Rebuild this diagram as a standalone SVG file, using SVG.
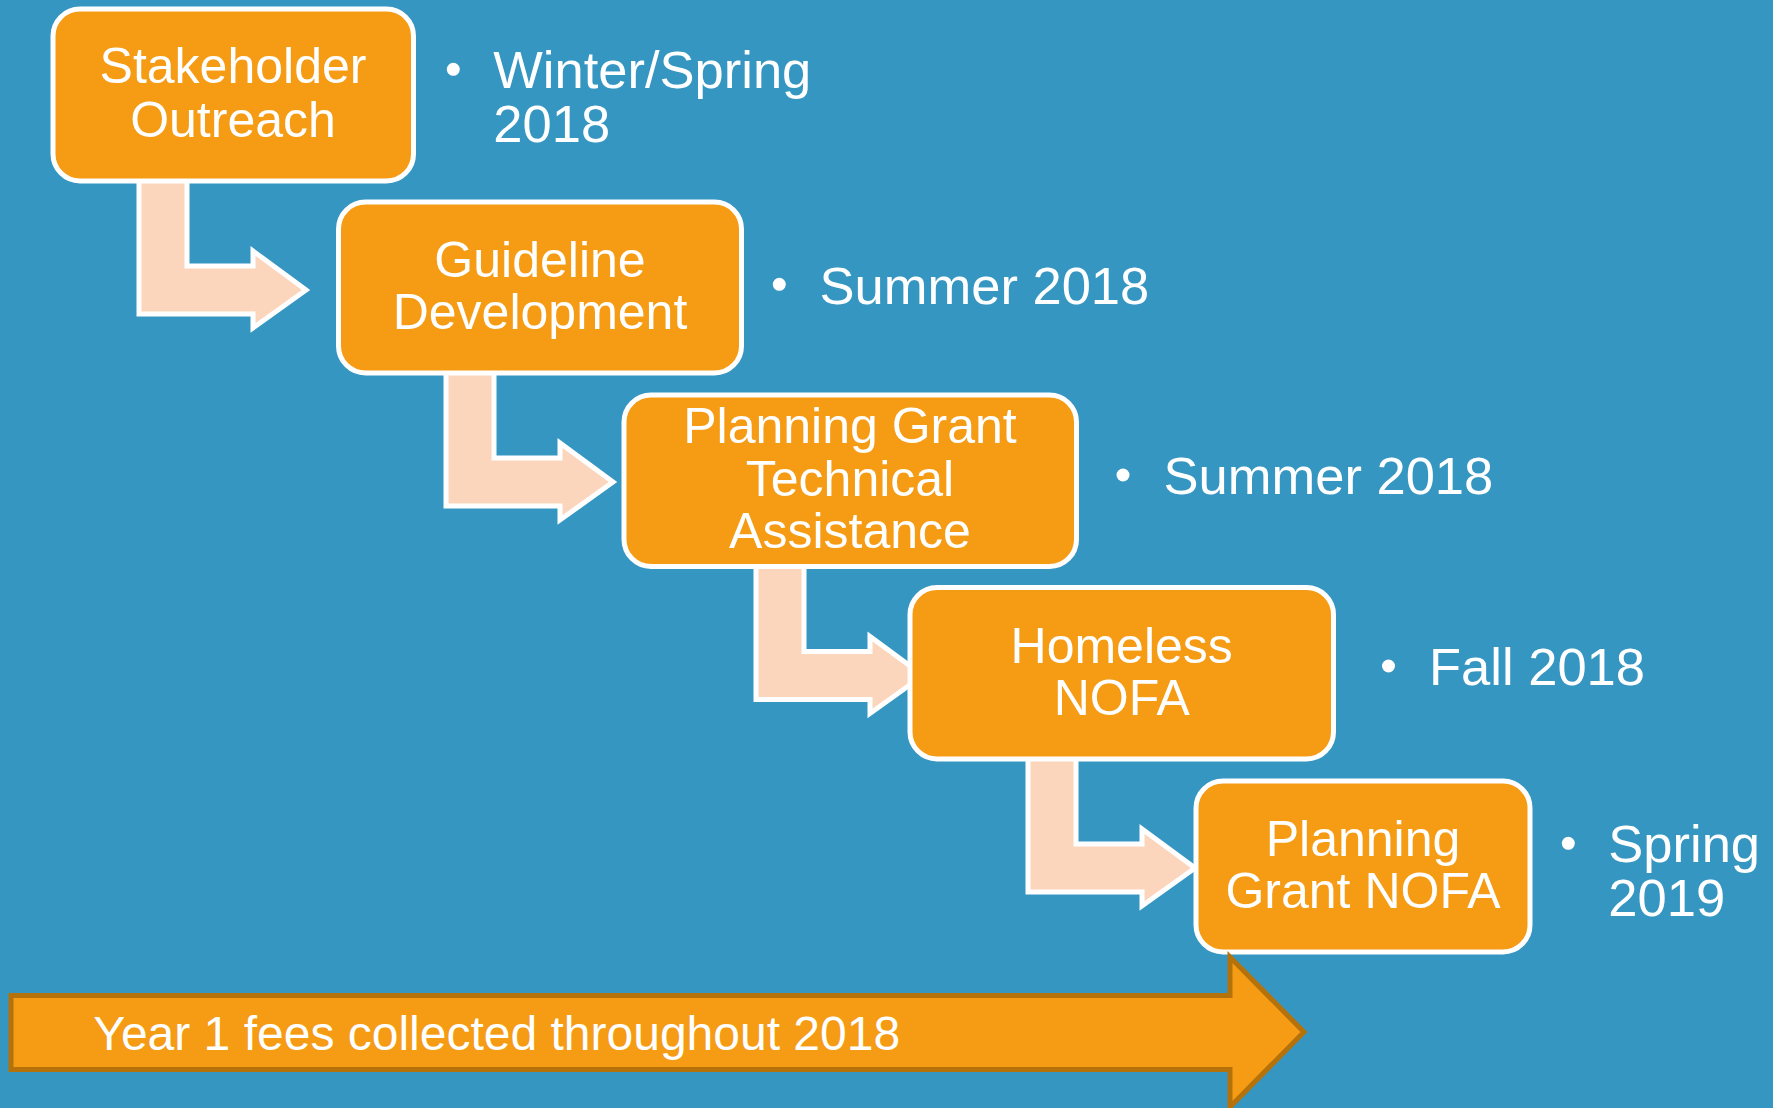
<svg xmlns="http://www.w3.org/2000/svg" width="1773" height="1108" viewBox="0 0 1773 1108">
  <style>
    .bg { fill: #3596C1; }
    .box { fill: #F59B14; stroke: #FFFFFF; stroke-width: 5; }
    .conn { fill: #FBD6BD; stroke: #FFFFFF; stroke-width: 5; stroke-linejoin: miter; }
    .big { fill: #F59B14; stroke: #B5720B; stroke-width: 5; stroke-linejoin: miter; }
    .lbl { font-family: "Liberation Sans", Arial, sans-serif; font-size: 50px; fill: #FFFFFF; text-anchor: middle; }
    .note { font-family: "Liberation Sans", Arial, sans-serif; font-size: 52.5px; fill: #FFFFFF; }
    .bar { font-family: "Liberation Sans", Arial, sans-serif; font-size: 48px; fill: #FFFFFF; }
    .dot { fill: #FFFFFF; }
  </style>
  <rect class="bg" x="0" y="0" width="1773" height="1108"/>

  <g id="connectors">
    <path class="conn" d="M139,178 V314 H253 V328 L306,290 L253,251 V266 H187 V178 Z"/>
    <path class="conn" d="M446,370 V506 H560 V520 L613,482 L560,443 V458 H494 V370 Z"/>
    <path class="conn" d="M756,563 V699.5 H870 V713.5 L923,675.5 L870,636.5 V651.5 H804 V563 Z"/>
    <path class="conn" d="M1028,756 V892 H1142 V906 L1195,868 L1142,829 V844 H1076 V756 Z"/>
  </g>

  <g id="node-stakeholder-outreach">
    <rect class="box" x="53" y="9" width="360.5" height="172" rx="27"/>
    <text class="lbl" x="233" y="83.3">Stakeholder</text>
    <text class="lbl" x="233" y="136.7">Outreach</text>
  </g>
  <g id="node-guideline-development">
    <rect class="box" x="338.5" y="202" width="403" height="171" rx="27"/>
    <text class="lbl" x="540" y="277.3">Guideline</text>
    <text class="lbl" x="540" y="329">Development</text>
  </g>
  <g id="node-planning-grant-ta">
    <rect class="box" x="624" y="395" width="452.5" height="171.5" rx="27"/>
    <text class="lbl" x="850" y="443.3">Planning Grant</text>
    <text class="lbl" x="850" y="495.7">Technical</text>
    <text class="lbl" x="850" y="547.7">Assistance</text>
  </g>
  <g id="node-homeless-nofa">
    <rect class="box" x="910" y="587.5" width="423.5" height="171.5" rx="27"/>
    <text class="lbl" x="1121.7" y="662.7">Homeless</text>
    <text class="lbl" x="1121.7" y="715">NOFA</text>
  </g>
  <g id="node-planning-grant-nofa">
    <rect class="box" x="1196" y="781" width="334" height="171" rx="27"/>
    <text class="lbl" x="1363" y="856">Planning</text>
    <text class="lbl" x="1363" y="907.7">Grant NOFA</text>
  </g>

  <g id="timeline-bar">
    <path class="big" d="M11,995.5 H1230 V957 L1304,1032 L1230,1107 V1069.5 H11 Z"/>
    <text class="bar" x="93.3" y="1050">Year 1 fees collected throughout 2018</text>
  </g>

  <g id="notes">
    <circle class="dot" cx="453.3" cy="69.3" r="6.5"/>
    <text class="note" x="493.3" y="88.3">Winter/Spring</text>
    <text class="note" x="493.3" y="141.7">2018</text>

    <circle class="dot" cx="779.3" cy="284.3" r="6.5"/>
    <text class="note" x="819.5" y="303.5">Summer 2018</text>

    <circle class="dot" cx="1123" cy="475" r="6.5"/>
    <text class="note" x="1163.5" y="494">Summer 2018</text>

    <circle class="dot" cx="1388.5" cy="666" r="6.5"/>
    <text class="note" x="1429" y="685">Fall 2018</text>

    <circle class="dot" cx="1568.3" cy="843.3" r="6.5"/>
    <text class="note" x="1608.3" y="862">Spring</text>
    <text class="note" x="1608.3" y="916">2019</text>
  </g>
</svg>
